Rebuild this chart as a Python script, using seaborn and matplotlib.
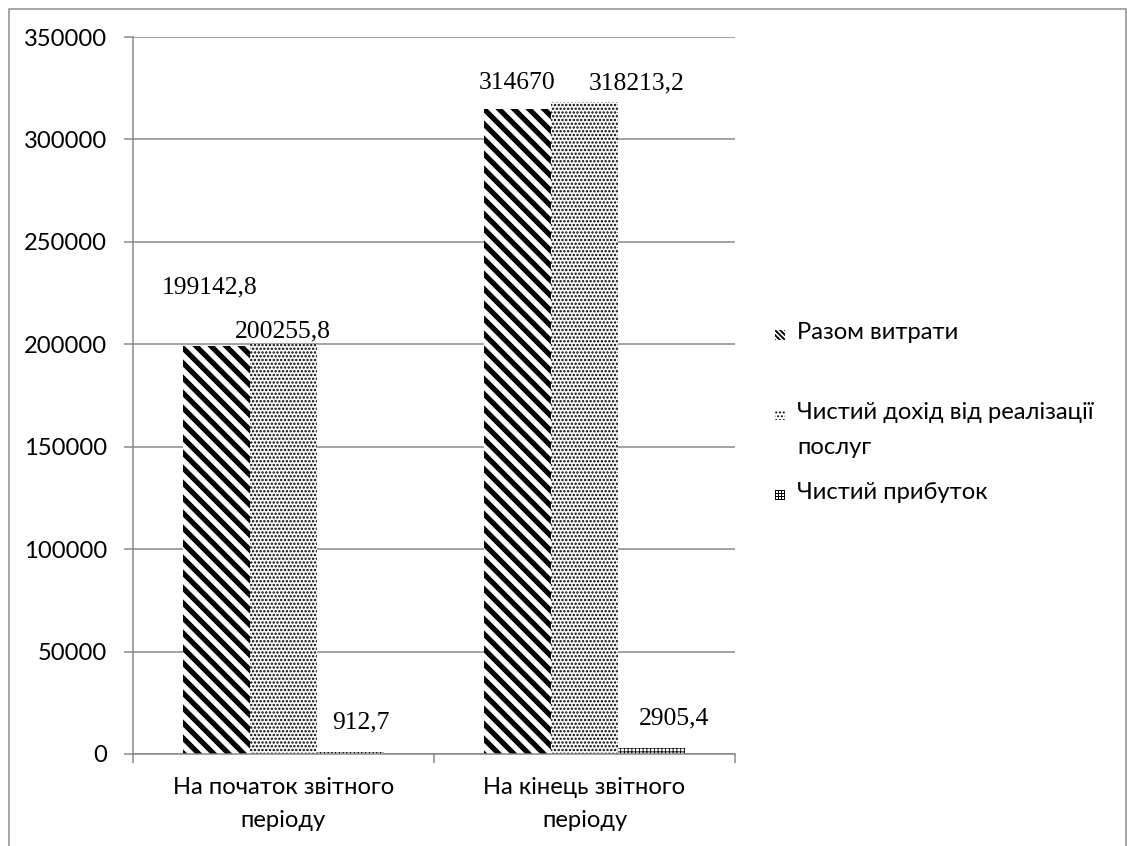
import matplotlib
matplotlib.use("Agg")
import matplotlib.pyplot as plt
from matplotlib.patches import Rectangle
import pandas as pd
import seaborn as sns

# Data
periods = ["На початок звітного\nперіоду", "На кінець звітного\nперіоду"]
series_names = ["Разом витрати", "Чистий дохід від реалізації\nпослуг", "Чистий прибуток"]
total_costs = [199142.8, 314670]
net_revenue = [200255.8, 318213.2]
net_profit = [912.7, 2905.4]
y_ticks = [0, 50000, 100000, 150000, 200000, 250000, 300000, 350000]

# Label offsets (pixels) from the top centre of each bar
label_offsets = [
    [(-7, 59), (-1, 26)],
    [(-1, 12), (52, 19)],
    [(10, 30), (23, 30)],
]
hatches = ["\\\\", "....", "++++"]
hatch_widths = [4.2, 1.3, 0.7]
legend_hatches = ["\\" * 6, "....", "+++++"]
legend_hatch_widths = [1.5, 1.0, 0.8]

W, H, DPI = 1127, 846, 90
GRAY = "#868686"

sns.set_theme(style="white")
plt.rcParams["font.family"] = ["Lato", "DejaVu Sans"]

df = pd.DataFrame({
    "period": periods * 3,
    "series": [s for s in series_names for _ in periods],
    "value": total_costs + net_revenue + net_profit,
})

fig = plt.figure(figsize=(W / DPI, H / DPI), dpi=DPI)
fig.patch.set_facecolor("white")
ax = fig.add_axes([133 / W, 1 - 754 / H, (735 - 133) / W, (754 - 37) / H])

sns.barplot(data=df, x="period", y="value", hue="series", hue_order=series_names,
            order=periods, palette=["white"] * 3, width=2 / 3, edgecolor="black",
            linewidth=0, legend=False, ax=ax, errorbar=None)


def fmt(v):
    s = f"{v:.1f}".rstrip("0").rstrip(".")
    return s.replace(".", ",")


for k, cont in enumerate(ax.containers):
    for j, bar in enumerate(cont.patches):
        bar.set_hatch(hatches[k])
        if hasattr(bar, "set_hatch_linewidth"):
            bar.set_hatch_linewidth(hatch_widths[k])
        v = bar.get_height()
        dx, dy = label_offsets[k][j]
        ax.annotate(fmt(v), (bar.get_x() + bar.get_width() / 2, v),
                    xytext=(dx, dy), textcoords="offset pixels",
                    ha="center", va="center", fontsize=20.5,
                    family="Liberation Serif", color="black")

ax.set_xlim(-0.5, 1.5)
ax.set_ylim(0, 350000)
ax.set_yticks(y_ticks)
ax.set_yticklabels([str(t) for t in y_ticks])
ax.set_xlabel("")
ax.set_ylabel("")

ax.yaxis.grid(True, color=GRAY, linewidth=1.2)
ax.set_axisbelow(True)
for side in ["top", "right"]:
    ax.spines[side].set_visible(False)
for side in ["left", "bottom"]:
    ax.spines[side].set_color(GRAY)
    ax.spines[side].set_linewidth(1.2)

ax.tick_params(axis="y", which="major", length=7.2, width=1.2, color=GRAY,
               labelsize=19, pad=13.5, left=True, labelcolor="black")
ax.set_xticks([-0.5, 0.5, 1.5], minor=True)
ax.tick_params(axis="x", which="minor", length=7.2, width=1.2, color=GRAY,
               bottom=True, direction="out")
ax.tick_params(axis="x", which="major", length=0, labelsize=19, pad=18,
               labelcolor="black")
for lbl in ax.get_xticklabels():
    lbl.set_linespacing(1.75)

# Legend drawn beside the plot: first-line centre of each entry
legend_rows = [335, 415, 495]
for k, name in enumerate(series_names):
    yc = legend_rows[k]
    p = Rectangle((775 / W, 1 - (yc + 5) / H), 10 / W, 10 / H,
                  transform=fig.transFigure, facecolor="white", edgecolor="black",
                  linewidth=0, hatch=legend_hatches[k])
    if hasattr(p, "set_hatch_linewidth"):
        p.set_hatch_linewidth(legend_hatch_widths[k])
    fig.add_artist(p)
    fig.text(797 / W, 1 - (yc - 13) / H, name, fontsize=19, ha="left",
             va="top", linespacing=1.8, color="black")

# Chart area border
fig.add_artist(Rectangle((9 / W, -0.1), (1126 - 9) / W, 1.1 - 9 / H,
                         transform=fig.transFigure, fill=False,
                         edgecolor="#8c8c8c", linewidth=1.2))

fig.savefig("out.png", dpi=DPI)
